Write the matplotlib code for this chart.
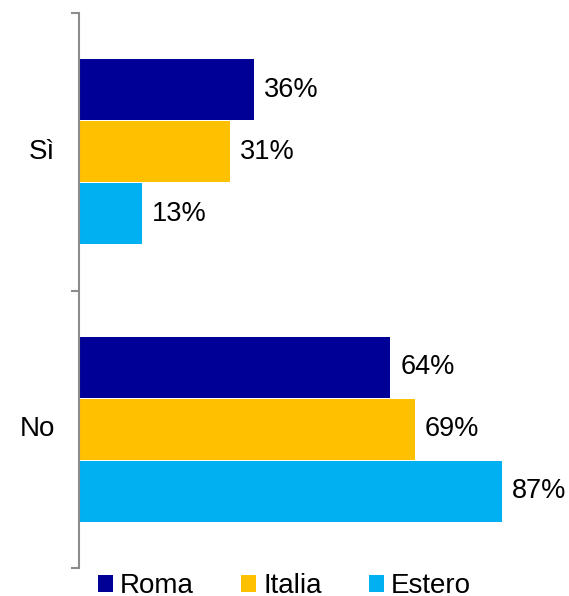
import matplotlib
matplotlib.use("Agg")
import matplotlib.pyplot as plt
import numpy as np
from matplotlib.patches import Patch

plt.rcParams["font.family"] = ["Liberation Sans", "DejaVu Sans"]

categories = ["Sì", "No"]
series = ["Roma", "Italia", "Estero"]
roma = [36, 64]
italia = [31, 69]
estero = [13, 87]
colors = ["#000096", "#FFC000", "#00B0F0"]

fig = plt.figure(figsize=(5.69, 5.96), dpi=100)
ax = fig.add_axes([0.139, 0.047, 0.855, 0.931])

pos = np.arange(len(categories))
h = 0.22
step = 0.223
for i, (vals, c) in enumerate(zip([roma, italia, estero], colors)):
    y = pos + (i - 1) * step
    bars = ax.barh(y, vals, height=h, color=c, edgecolor="none")
    for b, v in zip(bars, vals):
        ax.annotate(f"{v}%", (b.get_width(), b.get_y() + b.get_height() / 2),
                    xytext=(7, 0), textcoords="offset points",
                    va="center", ha="left", fontsize=19.5)

ax.set_xlim(0, 100)
ax.set_ylim(1.5, -0.5)
ax.set_yticks([-0.5, 0.5, 1.5])
ax.set_yticklabels([])
ax.tick_params(axis="y", length=6, width=1.5, color="#8c8c8c", direction="out")
ax.set_xticks([])
for y, lab in zip(pos, categories):
    ax.text(-0.05, y, lab, transform=ax.get_yaxis_transform(), ha="right",
            va="center", fontsize=20)
for s in ["top", "right", "bottom"]:
    ax.spines[s].set_visible(False)
ax.spines["left"].set_color("#8c8c8c")
ax.spines["left"].set_linewidth(1.5)

handles = [Patch(facecolor=c, edgecolor="none") for c in colors]
fig.legend(handles, series, loc="lower center", bbox_to_anchor=(0.5, -0.047),
           ncol=3, frameon=False, fontsize=20, handlelength=0.55,
           handleheight=0.55, handletextpad=0.25, columnspacing=1.7)

fig.savefig("out.png", dpi=100)
